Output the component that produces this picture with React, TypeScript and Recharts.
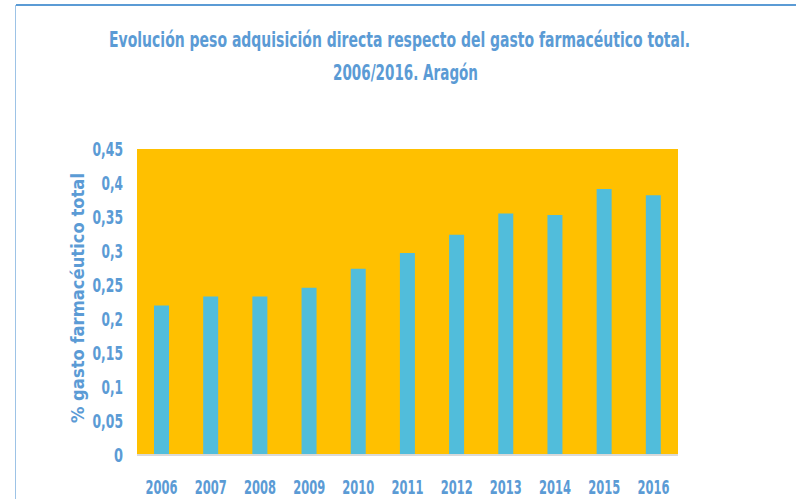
import React from "react";
import { BarChart, Bar, XAxis, YAxis, CartesianGrid } from "recharts";

const years = ["2006", "2007", "2008", "2009", "2010", "2011", "2012", "2013", "2014", "2015", "2016"];
const pesoAdquisicion = [0.22, 0.233, 0.233, 0.246, 0.274, 0.297, 0.324, 0.355, 0.353, 0.391, 0.382];
const yTicks = [0, 0.05, 0.1, 0.15, 0.2, 0.25, 0.3, 0.35, 0.4, 0.45];

const title1 = "Evolución peso adquisición directa respecto del gasto farmacéutico total.";
const title2 = "2006/2016. Aragón";
const yLabel = "% gasto farmacéutico total";

const data = years.map((year, i) => ({ year, value: pesoAdquisicion[i] }));

const BLUE = "#5B9BD5";
const FONT = "'DejaVu Sans Condensed', 'DejaVu Sans', sans-serif";

const fmt = (v: number) => String(Number(v.toFixed(2))).replace(".", ",");

// squeeze text to a given width, like the narrow Calibri of the original
function Squeezed(props: any) {
  const { children, width, ...rest } = props;
  return (
    <text fill={BLUE} fontFamily={FONT} fontWeight="bold"
      textLength={width} lengthAdjust="spacingAndGlyphs" {...rest}>
      {children}
    </text>
  );
}

// title line: small font stretched vertically so it stays narrow
function TitleLine({ x, y, width, text }: any) {
  return (
    <g transform={`translate(${x} ${y}) scale(1 1.36)`}>
      <Squeezed x={0} y={0} textAnchor="middle" fontSize={15.8} width={width}>{text}</Squeezed>
    </g>
  );
}

function XTick(props: any) {
  const { x, payload } = props;
  return (
    <Squeezed x={x} y={494} textAnchor="middle" fontSize={20} width={32}>
      {payload.value}
    </Squeezed>
  );
}

function YTick(props: any) {
  const { y, payload } = props;
  const label = fmt(payload.value);
  const digits = label.replace(",", "").length;
  const w = digits * 9 + (label.includes(",") ? 3.5 : 0);
  return (
    <Squeezed x={123} y={y + 7} textAnchor="end" fontSize={19} width={w}>
      {label}
    </Squeezed>
  );
}

export default function App() {
  return (
    <div style={{ position: "absolute", left: 0, top: 0, width: 796, height: 499, background: "#fff", overflow: "hidden" }}>
      <BarChart width={796} height={499} data={data}
        margin={{ top: 149, right: 118, bottom: 14, left: 0 }}>
        <CartesianGrid horizontal={false} vertical={false} fill="#FFC000" />
        <XAxis dataKey="year" height={30} axisLine={{ stroke: "#D9D9D9", strokeWidth: 2 }}
          tickLine={false} tick={<XTick />} interval={0} />
        <YAxis width={137} domain={[0, 0.45]} ticks={yTicks} axisLine={false}
          tickLine={false} tick={<YTick />} interval={0} />
        <Bar dataKey="value" fill="#51BDDB" barSize={15} isAnimationActive={false} />
      </BarChart>
      <svg width={796} height={499} style={{ position: "absolute", left: 0, top: 0, pointerEvents: "none" }}>
        <line x1={16} y1={5} x2={796} y2={5} stroke={BLUE} strokeWidth={2} />
        <line x1={15.5} y1={5} x2={15.5} y2={499} stroke="#9DC3E6" strokeWidth={1} />
        <TitleLine x={399.5} y={47} width={581} text={title1} />
        <TitleLine x={405.5} y={80} width={145} text={title2} />
        <Squeezed x={84} y={298} textAnchor="middle" fontSize={17} width={250}
          transform="rotate(-90 84 298)">{yLabel}</Squeezed>
      </svg>
    </div>
  );
}
